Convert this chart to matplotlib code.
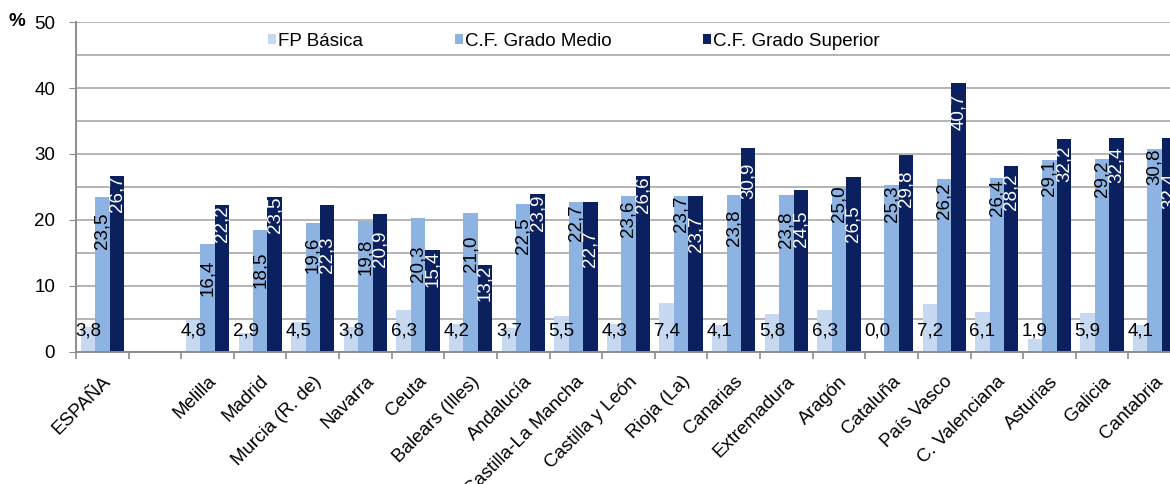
import numpy as np
import matplotlib.pyplot as plt
from matplotlib.patches import Patch

# --- Data --- #

comunidades = ["ESPAÑA", "", "Melilla", "Madrid", "Murcia (R. de)", "Navarra", "Ceuta",
               "Balears (Illes)", "Andalucía", "Castilla-La Mancha", "Castilla y León",
               "Rioja (La)", "Canarias", "Extremadura", "Aragón", "Cataluña", "País Vasco",
               "C. Valenciana", "Asturias", "Galicia", "Cantabria"]

fp_basica = [3.8, np.nan, 4.8, 2.9, 4.5, 3.8, 6.3, 4.2, 3.7, 5.5, 4.3,
             7.4, 4.1, 5.8, 6.3, 0.0, 7.2, 6.1, 1.9, 5.9, 4.1]
grado_medio = [23.5, np.nan, 16.4, 18.5, 19.6, 19.8, 20.3, 21.0, 22.5, 22.7, 23.6,
               23.7, 23.8, 23.8, 25.0, 25.3, 26.2, 26.4, 29.1, 29.2, 30.8]
grado_superior = [26.7, np.nan, 22.2, 23.5, 22.3, 20.9, 15.4, 13.2, 23.9, 22.7, 26.6,
                  23.7, 30.9, 24.5, 26.5, 29.8, 40.7, 28.2, 32.2, 32.4, 32.4]

series_names = ["FP Básica", "C.F. Grado Medio", "C.F. Grado Superior"]

# label drop (pixels below the bar top) as placed in the original chart
drop_medio = [16, 0, 16, 22, 14, 17, 27, 22, 14, 2, 4, 0, 15, 17, -2, 0, 3, 2, 0, 1, 0]
drop_superior = [0, 0, 0, 0, 32, 16, 0, 0, 0, 28, 0, 20, 15, 20, 28, 15, 10, 7, 6, 8, 34]

# --- Style --- #

FS = 13.5
plt.rcParams['font.family'] = ['Liberation Sans', 'DejaVu Sans']
plt.rcParams['font.size'] = FS

colors = ["#C6D9F1", "#8DB3E2", "#0B205E"]
grid_color = "#B4B4B4"
axis_color = "#8C8C8C"

def fmt(v):
    return f"{v:.1f}".replace(".", ",")

# --- Plot --- #

W, H = 1170, 484
fig = plt.figure(figsize=(W / 100, H / 100), dpi=100)
# axes run a little past the right edge, like in the source image
ax = fig.add_axes([76 / W, (H - 352) / H, 1105 / W, 330 / H])

x = np.arange(len(comunidades))
bw = 0.274
offsets = [-bw, 0, bw]
all_series = [fp_basica, grado_medio, grado_superior]

for k, vals in enumerate(all_series):
    vals = np.array(vals, dtype=float)
    mask = ~np.isnan(vals)
    ax.bar(x[mask] + offsets[k], vals[mask], width=bw, color=colors[k],
           edgecolor="none", zorder=2)

for i in range(len(comunidades)):
    if np.isnan(fp_basica[i]):
        continue
    ax.text(x[i] + offsets[0], 3.2, fmt(fp_basica[i]), ha="center", va="center",
            color="black", zorder=4)
    ax.annotate(fmt(grado_medio[i]), (x[i] + offsets[1], grado_medio[i]),
                xytext=(0, -drop_medio[i]), textcoords="offset pixels",
                rotation=90, ha="center", va="top", color="black", zorder=4)
    ax.annotate(fmt(grado_superior[i]), (x[i] + offsets[2], grado_superior[i]),
                xytext=(0, -drop_superior[i]), textcoords="offset pixels",
                rotation=90, ha="center", va="top", color="white", zorder=4)

ax.set_xlim(-0.5, len(comunidades) - 0.5)
ax.set_ylim(0, 50)

ax.set_yticks(np.arange(0, 51, 10))
ax.set_yticks(np.arange(5, 50, 10), minor=True)
ax.yaxis.grid(True, which="both", color=grid_color, linewidth=1.4, zorder=0)
ax.set_axisbelow(True)
ax.tick_params(axis="y", which="major", length=5, color=axis_color, pad=10, labelsize=FS)
ax.tick_params(axis="y", which="minor", length=0)

ax.set_xticks(x)
ax.set_xticklabels(comunidades, rotation=45, ha="right", va="top", rotation_mode="anchor")
ax.set_xticks(np.arange(-0.5, len(comunidades), 1), minor=True)
ax.tick_params(axis="x", which="major", length=0, pad=15, labelsize=FS)
ax.tick_params(axis="x", which="minor", length=5, color=axis_color, width=1.2)

for s in ["top", "right"]:
    ax.spines[s].set_visible(False)
for s in ["left", "bottom"]:
    ax.spines[s].set_color(axis_color)
    ax.spines[s].set_linewidth(1.4)
    ax.spines[s].set_zorder(3)

handles = [Patch(facecolor=c, edgecolor="none") for c in colors]
ax.legend(handles, series_names, loc="center", bbox_to_anchor=(574 / W, 1 - 41 / H),
          bbox_transform=fig.transFigure, ncol=3, frameon=False,
          handlelength=0.4, handleheight=0.5, handletextpad=0.12,
          columnspacing=4.9, fontsize=FS, borderpad=0, borderaxespad=0)

fig.text(17 / W, 1 - 22 / H, "%", ha="center", va="center", fontweight="bold", fontsize=FS)

fig.savefig("out.png", dpi=100)
